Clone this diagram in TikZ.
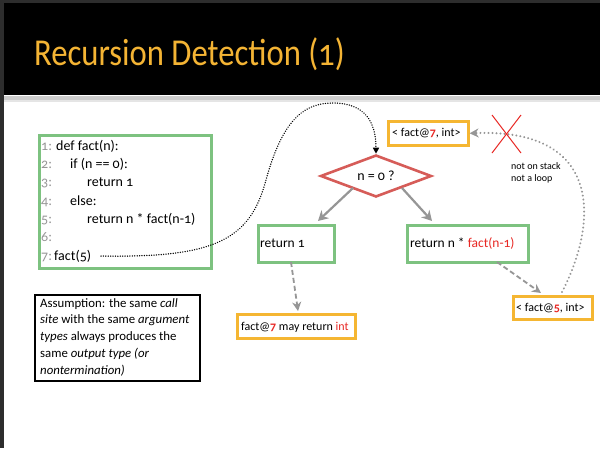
\documentclass[tikz,border=0pt]{standalone}
\usepackage{fontspec}
\setmainfont{Carlito}[Numbers=OldStyle]
\usetikzlibrary{arrows.meta,shapes.geometric}
\definecolor{titleor}{RGB}{244,180,52}
\definecolor{boxor}{RGB}{245,182,50}
\definecolor{boxgr}{RGB}{125,194,128}
\definecolor{diared}{RGB}{214,92,88}
\definecolor{txtred}{RGB}{232,40,36}
\definecolor{lngray}{RGB}{150,150,150}
\definecolor{argray}{RGB}{150,150,150}
\definecolor{frame}{RGB}{45,45,45}
\begin{document}
\begin{tikzpicture}[x=1pt,y=1pt,
  grbox/.style={draw=boxgr,line width=2.6pt,inner sep=0pt},
  orbox/.style={draw=boxor,line width=2.6pt,fill=white},
  codeline/.style={anchor=base west,inner sep=0pt,font=\fontsize{14}{16}\selectfont},
  lnum/.style={anchor=base west,inner sep=0pt,font=\fontsize{14}{16}\selectfont,text=lngray},
  lbl/.style={anchor=base west,inner sep=0pt,font=\fontsize{13.5}{15}\selectfont},
  small/.style={anchor=base west,inner sep=0pt,font=\fontsize{12}{14}\selectfont},
  grayarrow/.style={draw=argray,line width=2.2pt,-{Stealth[length=10pt,width=11pt]}},
  dasharrow/.style={draw=argray,line width=1.8pt,dash pattern=on 5pt off 3pt,-{Stealth[length=9pt,width=9pt]}},
]
\useasboundingbox (0,0) rectangle (600,-448);
\fill[white] (0,0) rectangle (600,-448);
% frame
\fill[frame] (0,0) rectangle (600,-4);
\fill[frame] (0,0) rectangle (4,-448);
\fill[black] (4,-3) rectangle (600,-95);
\fill[black!20] (4,-96) rectangle (600,-100);
\fill[black!10] (4,-100) rectangle (600,-102);
\node[anchor=base west,inner sep=0pt,text=titleor,font=\fontsize{38}{40}\selectfont,transform shape,xscale=0.86] (title) at (34,-65) {Recursion Detection (1)};

% code box
\node[grbox,minimum width=172pt,minimum height=133pt,anchor=north west] (code) at (38,-134) {};
\node[lnum] (n1) at (41,-150) {1:}; \node[codeline] (c1) at (56,-150) {def fact(n):};
\node[lnum] (n2) at (41,-168.3) {2:}; \node[codeline] (c2) at (70,-168.3) {if (n == 0):};
\node[lnum] (n3) at (41,-186.6) {3:}; \node[codeline] (c3) at (87,-186.6) {return 1};
\node[lnum] (n4) at (41,-205) {4:}; \node[codeline] (c4) at (70,-205) {else:};
\node[lnum] (n5) at (41,-223.3) {5:}; \node[codeline] (c5) at (87,-223.3) {return n * fact(n-1)};
\node[lnum] (n6) at (41,-241.6) {6:};
\node[lnum] (n7) at (41,-260) {7:}; \node[codeline] (c7) at (54,-260) {fact(5)};

% diamond
\node[diamond,draw=diared,line width=2.6pt,minimum width=111pt,minimum height=42pt,aspect=2.6,inner sep=0pt,font=\fontsize{14}{16}\selectfont] (dia) at (376,-176) {n = 0 ?};

% result boxes
\node[grbox,minimum width=76pt,minimum height=37pt,anchor=north west] (r1) at (257,-224) {};
\node[lbl] (r1t) at (260,-247) {return 1};
\node[grbox,minimum width=121pt,minimum height=37pt,anchor=north west] (r2) at (406,-224) {};
\node[lbl] (r2t) at (410,-247) {return n * \textcolor{txtred}{fact(n-1)}};

\node[orbox,minimum width=80pt,minimum height=24pt,anchor=north west] (f7) at (387,-120) {};
\node[small] (f7t) at (392,-136.5) {< fact@\textcolor{txtred}{\textbf{7}}, int>};

\node[orbox,minimum width=118pt,minimum height=24pt,anchor=north west] (ret) at (236,-313) {};
\node[small] (rett) at (241,-330) {fact@\textcolor{txtred}{\textbf{7}} may return \textcolor{txtred}{int}};

\node[orbox,minimum width=79pt,minimum height=23pt,anchor=north west] (f5) at (512,-295) {};
\node[small] (f5t) at (516,-311) {< fact@\textcolor{txtred}{\textbf{5}}, int>};

% assumption box
\node[draw=black,line width=2.4pt,minimum width=165pt,minimum height=86pt,anchor=north west] (assume) at (34,-294) {};
\node[anchor=north west,inner sep=0pt,align=left,font=\fontsize{12.8}{16.8}\selectfont] (assumet) at (40,-298) {Assumption: the same \textit{call}\\\textit{site} with the same \textit{argument}\\\textit{types} always produces the\\same \textit{output type (or}\\\textit{nontermination)}};

% note
\node[anchor=north west,inner sep=0pt,align=left,font=\fontsize{10}{12.5}\selectfont] (note) at (511,-162) {not on stack\\not a loop};

% connectors
\coordinate (s7) at (101,-256);
\draw[line width=1.5pt,dash pattern=on 0.01pt off 2.4pt,line cap=round,-{Triangle[length=6pt,width=6pt]}]
 (s7) .. controls (215,-258) and (250,-240) .. (266,-180)
 .. controls (283,-118) and (305,-103) .. (333,-103)
 .. controls (365,-103) and (376,-122) .. (dia.north);
\draw[grayarrow] (353,-188) -- (318,-221);
\draw[grayarrow] (402,-188) -- (432,-221);
\draw[dasharrow] (291,-262) -- (298,-311);
\draw[dasharrow] (497,-262) -- (541,-293);
\coordinate (gs) at (562,-292);
\draw[argray,line width=2.2pt,dash pattern=on 0.01pt off 4pt,line cap=round,-{Stealth[length=9pt,width=9pt]}]
 (gs) .. controls (597,-225) and (605,-128) .. (f7.east);
% red X
\draw[txtred,line width=1pt] (492,-115) -- (521,-153);
\draw[txtred,line width=1pt] (521,-115) -- (492,-153);
\end{tikzpicture}
\end{document}
